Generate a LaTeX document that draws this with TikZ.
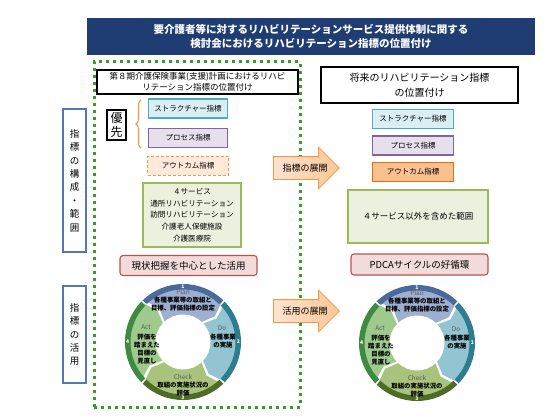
\documentclass[tikz,border=0pt]{standalone}
\usepackage{fontspec}
\setmainfont{Noto Sans CJK JP}
\usepackage{xcolor}
\usetikzlibrary{
    shapes,
    shapes.arrows,
    calc,
    positioning,
    decorations.pathreplacing,
}

\definecolor{titleBlue}{HTML}{1F3D73}
\definecolor{axisBlue}{HTML}{5576B0}
\definecolor{dotGreen}{HTML}{3A9A2A}
\definecolor{structFill}{HTML}{DAEEF3}
\definecolor{structLine}{HTML}{4BACC6}
\definecolor{procFill}{HTML}{E5E0EC}
\definecolor{procLine}{HTML}{8064A2}
\definecolor{outFillL}{HTML}{FDEADA}
\definecolor{outLineL}{HTML}{F79646}
\definecolor{outFillR}{HTML}{FAC090}
\definecolor{outLineR}{HTML}{E46C0A}
\definecolor{svcFill}{HTML}{EBF1DE}
\definecolor{svcLine}{HTML}{9BBB59}
\definecolor{useFill}{HTML}{F2DCDB}
\definecolor{useLine}{HTML}{C0504D}
\definecolor{arrowLine}{HTML}{F79646}
\definecolor{arrowLeft}{HTML}{FDE4D0}
\definecolor{arrowRight}{HTML}{FBC796}
\definecolor{planFill}{HTML}{9EB0CF}
\definecolor{planBand}{HTML}{4A6A9C}
\definecolor{doFill}{HTML}{92C4D2}
\definecolor{doBand}{HTML}{2E7C90}
\definecolor{checkFill}{HTML}{A9C37C}
\definecolor{checkBand}{HTML}{4E6B28}
\definecolor{actFill}{HTML}{9ECB8D}
\definecolor{actBand}{HTML}{3E8A3E}

% one block of the cycle: fill, band, start angle, end angle
\newcommand{\pdcaSegment}[4]{%
    \fill[#1, draw=white, line width=1pt] (#3:58) arc[start angle=#3, end angle=#4, radius=58]
        -- ({#4-8}:41) -- (#4:27) arc[start angle=#4, end angle=#3, radius=27] -- ({#3-8}:41) -- cycle;
    \fill[#2] (#3:58) arc[start angle=#3, end angle=#4, radius=58]
        -- (#4:52.5) arc[start angle=#4, end angle=#3, radius=52.5] -- cycle;
}

% whole cycle: x, y, name prefix
\newcommand{\pdcaCycle}[3]{%
    \begin{scope}[shift={(#1,#2)}, yscale=-1]
        \pdcaSegment{planFill}{planBand}{134}{46}
        \pdcaSegment{doFill}{doBand}{44}{-44}
        \pdcaSegment{checkFill}{checkBand}{-46}{-134}
        \pdcaSegment{actFill}{actBand}{224}{136}
        \node at (90:55.3)  [cycleNum] (#3One)   {1};
        \node at (0:55.3)   [cycleNum] (#3Two)   {2};
        \node at (270:55.3) [cycleNum] (#3Three) {3};
        \node at (180:55.3) [cycleNum] (#3Four)  {4};
        \node at (0,50)     [cycleHead] (#3PlanHead)  {Plan};
        \node at (0,37.5)   [cycleText] (#3PlanText)  {各種事業等の取組と\\目標、評価指標の設定};
        \node at (39,14)    [cycleHead] (#3DoHead)    {Do};
        \node at (40,1)     [cycleText] (#3DoText)    {各種事業\\の実施};
        \node at (0,-35)    [cycleHead] (#3CheckHead) {Check};
        \node at (0,-47)    [cycleText] (#3CheckText) {取組の実施状況の\\評価};
        \node at (-37,15)   [cycleHead] (#3ActHead)   {Act};
        \node at (-36,-7)   [cycleText] (#3ActText)   {評価を\\踏まえた\\目標の\\見直し};
    \end{scope}
}

\begin{document}
\begin{tikzpicture}[x=1pt, y=-1pt, >=stealth]

    \tikzstyle{commonNode}=[align=center, inner sep=0pt, font=\fontsize{7.5}{9}\selectfont]
    \tikzstyle{titleBar}=[commonNode, rectangle, fill=titleBlue, text=white, font=\bfseries\fontsize{10.5}{14}\selectfont]
    \tikzstyle{header}=[commonNode, rectangle, draw=black, fill=white, line width=1.4pt]
    \tikzstyle{indicator}=[commonNode, rectangle, line width=1.1pt, minimum width=79pt, minimum height=19pt]
    \tikzstyle{structBox}=[indicator, fill=structFill, draw=structLine]
    \tikzstyle{procBox}=[indicator, fill=procFill, draw=procLine]
    \tikzstyle{outBox}=[indicator, fill=outFillR, draw=outLineR]
    \tikzstyle{plannedOutBox}=[indicator, fill=outFillL, draw=outLineL, line width=0.6pt, densely dashed]
    \tikzstyle{scopeBox}=[commonNode, rectangle, fill=svcFill, draw=svcLine, line width=1.1pt]
    \tikzstyle{useBox}=[commonNode, rectangle, rounded corners=3pt, fill=useFill, draw=useLine, line width=1.1pt, minimum width=137pt, minimum height=20pt, font=\fontsize{9.5}{11}\selectfont]
    \tikzstyle{axisBox}=[commonNode, rectangle, draw=axisBlue, line width=1.1pt, minimum width=23pt, font=\fontsize{9.5}{13.4}\selectfont]
    \tikzstyle{devArrow}=[single arrow, draw=arrowLine, line width=0.8pt, left color=arrowLeft, right color=arrowRight, single arrow head extend=9.5pt, minimum height=66pt, text height=9pt, text depth=0pt, inner ysep=6.5pt, inner xsep=0pt, anchor=tail]
    \tikzstyle{arrowText}=[commonNode, font=\fontsize{9}{10}\selectfont]
    \tikzstyle{dottedFrame}=[draw=dotGreen, line width=3pt, dash pattern=on 3pt off 4pt]
    \tikzstyle{cycleText}=[commonNode, font=\bfseries\fontsize{6.4}{8}\selectfont]
    \tikzstyle{cycleHead}=[commonNode, text=black!65, font=\fontsize{6.4}{7}\selectfont]
    \tikzstyle{cycleNum}=[commonNode, text=white, font=\bfseries\fontsize{5}{5}\selectfont]
    \tikzstyle{brace}=[draw=outLineL, line width=1.1pt, decorate, decoration={brace, amplitude=5pt}]

    \useasboundingbox (0,0) rectangle (560,420);

    \begin{scope}
        % Columns
        \def \leftcol {188}
        \def \rightcol {413}

        % Title
        \node at (311, 36.5) [titleBar, minimum width=448pt, minimum height=37pt] (title)
            {要介護者等に対するリハビリテーションサービス提供体制に関する\\検討会におけるリハビリテーション指標の位置付け};

        % Axis labels
        \node at (74.5, 180.5) [axisBox, minimum height=143pt] (axisScope) {指\\標\\の\\構\\成\\・\\範\\囲};
        \node at (74.5, 334.5) [axisBox, minimum height=97pt]  (axisUse)   {指\\標\\の\\活\\用};

        % Current plan (dotted frame)
        \node at (197, 234.5) [dottedFrame, minimum width=206pt, minimum height=345pt] (planFrame) {};
        \node at (197.5, 82) [header, minimum width=201pt, minimum height=24pt, font=\fontsize{8.5}{11}\selectfont] (headL)
            {第８期介護保険事業(支援)計画におけるリハビ\\リテーション指標の位置付け};
        \node at (116.5, 125) [commonNode, draw=black, line width=1.2pt, minimum width=19pt, minimum height=30pt, font=\fontsize{12}{14}\selectfont] (prio) {優\\先};
        \node at (\leftcol, 108.5) [structBox] (structL) {ストラクチャー指標};
        \node at (\leftcol, 138)   [procBox]   (procL)   {プロセス指標};
        \node at (\leftcol, 165.5) [plannedOutBox, minimum width=81pt] (outL) {アウトカム指標};
        \coordinate (braceBot) at (141, 148);
        \coordinate (braceTop) at (141, 100);
        \draw[brace] (braceBot) -- (braceTop);
        \node at (192, 215) [scopeBox, minimum width=98pt, minimum height=64pt, font=\fontsize{7.6}{11.6}\selectfont] (svcL)
            {４サービス\\通所リハビリテーション\\訪問リハビリテーション\\介護老人保健施設\\介護医療院};
        \node at (188.5, 265.5) [useBox] (useL) {現状把握を中心とした活用};
        \pdcaCycle{183}{342}{cycL}

        % Future positioning
        \node at (419.5, 85) [header, line width=1.8pt, minimum width=197pt, minimum height=36pt, font=\fontsize{10}{15}\selectfont] (headR)
            {将来のリハビリテーション指標\\の位置付け};
        \node at (\rightcol, 119)   [structBox, minimum width=81pt] (structR) {ストラクチャー指標};
        \node at (\rightcol, 145.5) [procBox, minimum width=81pt]   (procR)   {プロセス指標};
        \node at (\rightcol, 172)   [outBox, minimum width=81pt]    (outR)    {アウトカム指標};
        \node at (418, 216.5) [scopeBox, minimum width=140pt, minimum height=53pt, font=\fontsize{8.5}{10}\selectfont] (svcR)
            {４サービス以外を含めた範囲};
        \node at (419.5, 264.5) [useBox, minimum height=21pt] (useR) {PDCAサイクルの好循環};
        \pdcaCycle{417}{343}{cycR}

        % Arrows between the two
        \node at (273, 168) [devArrow] (arrDev) {};
        \node at (305, 168) [arrowText] (arrDevText) {指標の展開};
        \node at (273, 311) [devArrow] (arrUse) {};
        \node at (305, 311) [arrowText] (arrUseText) {活用の展開};
    \end{scope}

\end{tikzpicture}
\end{document}
